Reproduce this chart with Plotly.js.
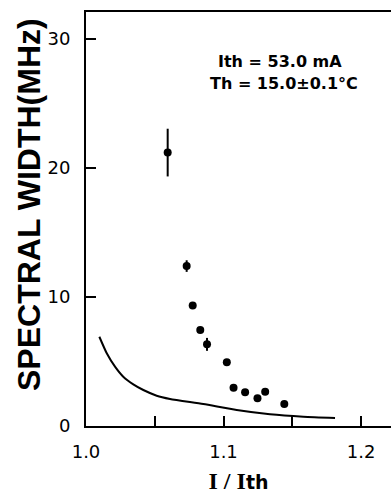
<!DOCTYPE html>
<html>
<head>
<meta charset="utf-8">
<script src="https://cdn.plot.ly/plotly-3.0.1.min.js"></script>
<style>html,body{margin:0;padding:0;background:#fff;overflow:hidden}</style>
</head>
<body>
<div id="chart" style="width:391px;height:494px"></div>
<script>
// Measured spectral width points (I/Ith, MHz)
const ratioX = [1.0594, 1.0732, 1.0776, 1.0831, 1.0880, 1.1024, 1.1073, 1.1157, 1.1247, 1.1303, 1.1442];
const widthY = [21.2, 12.4, 9.35, 7.44, 6.33, 4.94, 2.97, 2.62, 2.16, 2.65, 1.70];
const widthErr = [1.85, 0.45, 0, 0, 0.5, 0, 0, 0, 0, 0, 0];
// Theoretical curve
const curveX = [1.0097, 1.0151, 1.0211, 1.0271, 1.0344, 1.0417, 1.0514, 1.0611, 1.0853, 1.1096, 1.1338, 1.1580, 1.1811];
const curveY = [6.92, 5.64, 4.60, 3.82, 3.23, 2.79, 2.35, 2.10, 1.70, 1.24, 0.91, 0.72, 0.62];
// Axis ticks
const xTickVals = [1.0, 1.05, 1.1, 1.15, 1.2];
const xTickText = ["1.0", "", "1.1", "", "1.2"];
const yTickVals = [0, 10, 20, 30];
const yTickText = ["0", "10", "20", "30"];

const ink = "#000";
const traces = [
  {
    x: curveX, y: curveY, type: "scatter", mode: "lines",
    line: {color: ink, width: 2, shape: "spline", smoothing: 0.6},
    hoverinfo: "skip", showlegend: false
  },
  {
    x: ratioX, y: widthY, type: "scatter", mode: "markers",
    marker: {color: ink, size: 8},
    error_y: {type: "data", array: widthErr, visible: true, color: ink, thickness: 2, width: 0},
    showlegend: false
  }
];

const layout = {
  width: 391, height: 494,
  margin: {l: 86, r: 0, t: 12, b: 68},
  showlegend: false,
  xaxis: {
    range: [1.0, 1.2218], showgrid: false, zeroline: false, layer: "above traces",
    showline: true, linecolor: ink, linewidth: 2, mirror: true,
    tickmode: "array", tickvals: xTickVals, ticktext: xTickText,
    ticks: "inside", ticklen: 10, tickwidth: 2, tickcolor: ink,
    tickfont: {family: "DejaVu Sans", size: 18, color: ink},
    ticklabelstandoff: 8,
    title: {text: "I / I<span style='font-family:DejaVu Sans;font-size:19px'>th</span>", font: {family: "Liberation Serif", size: 24, color: ink, weight: "bold"}, standoff: 22}
  },
  yaxis: {
    range: [0, 32.1], showgrid: false, zeroline: false, layer: "above traces",
    showline: true, linecolor: ink, linewidth: 2, mirror: false,
    tickmode: "array", tickvals: yTickVals, ticktext: yTickText,
    ticks: "inside", ticklen: 10, tickwidth: 2, tickcolor: ink,
    tickfont: {family: "DejaVu Sans", size: 18, color: ink},
    ticklabelstandoff: 10
  },
  annotations: [
    {
      text: "SPECTRAL WIDTH(MHz)", textangle: -90,
      xref: "paper", yref: "paper", x: 0, y: (426 - 205) / 414,
      xanchor: "center", yanchor: "middle", xshift: -57, showarrow: false,
      font: {family: "Liberation Sans", size: 32, color: ink, weight: "bold"}
    },
    {
      text: "Ith = 53.0 mA", xref: "x", yref: "paper",
      x: 1.141, y: (426 - 62) / 414, xanchor: "center", yanchor: "middle", showarrow: false,
      font: {family: "DejaVu Sans", size: 16, color: ink, weight: "bold"}
    },
    {
      text: "Th = 15.0±0.1°C", xref: "x", yref: "paper",
      x: 1.144, y: (426 - 83) / 414, xanchor: "center", yanchor: "middle", showarrow: false,
      font: {family: "DejaVu Sans", size: 16, color: ink, weight: "bold"}
    }
  ]
};

Plotly.newPlot("chart", traces, layout, {displayModeBar: false, staticPlot: true});
</script>
</body>
</html>
